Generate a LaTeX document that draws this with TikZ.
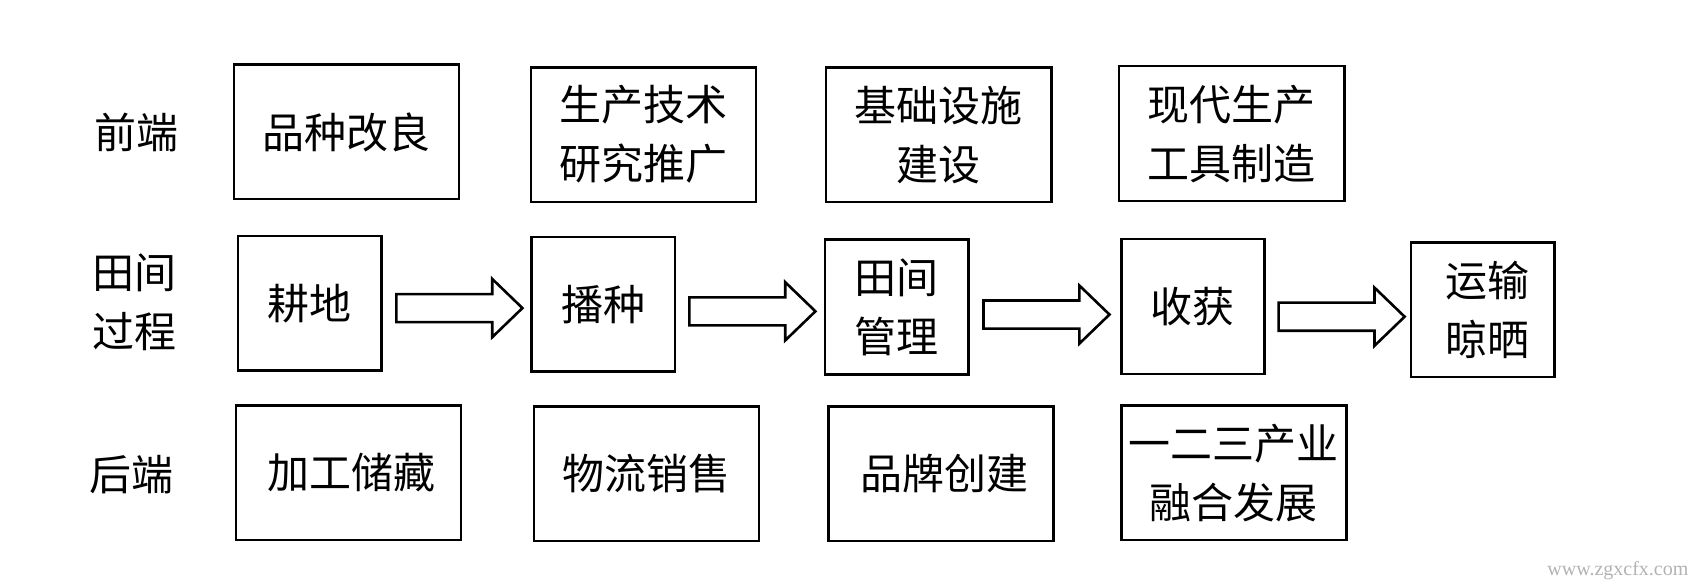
\documentclass[tikz,border=0pt]{standalone}
\usepackage{fontspec}
\newfontfamily\cjk{Noto Sans CJK SC}
\setmainfont{Liberation Serif}
\begin{document}
\begin{tikzpicture}[x=0.5385pt,y=-0.5385pt,
  box/.style={draw, line width=1.2pt, inner sep=0pt, align=center,
    font=\cjk\fontsize{21}{29.5}\selectfont},
  wide/.style={box, minimum width=209*0.5385pt, minimum height=125*0.5385pt},
  narrow/.style={box, minimum width=133*0.5385pt, minimum height=125*0.5385pt},
  lbl/.style={align=center, inner sep=0pt, font=\cjk\fontsize{21}{29.5}\selectfont},
  blkarrow/.pic={\draw[line width=1.3pt, line join=miter]
    (0,-13) -- (89,-13) -- (89,-27) -- (117,0) -- (89,27) -- (89,13) -- (0,13) -- cycle;}
]
\useasboundingbox (0,0) rectangle (1568,542);
% row labels
\node[lbl] (l1) at (127,123) {前端};
\node[lbl] (l2) at (125,281) {田间\\过程};
\node[lbl] (l3) at (122,441) {后端};
% row 1
\node[wide] (b1) at (321.5,122.5) {品种改良};
\node[wide] (b2) at (597.5,125) {生产技术\\研究推广};
\node[wide] (b3) at (871.5,125) {基础设施\\建设};
\node[wide] (b4) at (1143.5,124) {现代生产\\工具制造};
% row 2
\node[narrow] (c1) at (287.5,281.5) {耕地};
\node[narrow] (c2) at (560,282.5) {播种};
\node[narrow] (c3) at (832.5,285) {田间\\管理};
\node[narrow] (c4) at (1107.5,284.5) {收获};
\node[narrow] (c5) at (1376.5,287.5) {\hspace*{5pt}运输\\\hspace*{5pt}晾晒};
% arrows
\pic (a1) at (368,286) {blkarrow};
\pic (a2) at (640,289) {blkarrow};
\pic (a3) at (913,292) {blkarrow};
\pic (a4) at (1187,294) {blkarrow};
% row 3
\node[wide] (d1) at (323.5,439) {\hspace*{3pt}加工储藏};
\node[wide] (d2) at (600,440) {物流销售};
\node[wide] (d3) at (873.5,440) {\hspace*{4pt}品牌创建};
\node[wide] (d4) at (1145.5,439) {一二三产业\\融合发展};
% watermark
\node[inner sep=0pt, text=black!30, font=\fontsize{10}{12}\selectfont] (wm) at (1502,530) {www.zgxcfx.com};
\end{tikzpicture}
\end{document}
